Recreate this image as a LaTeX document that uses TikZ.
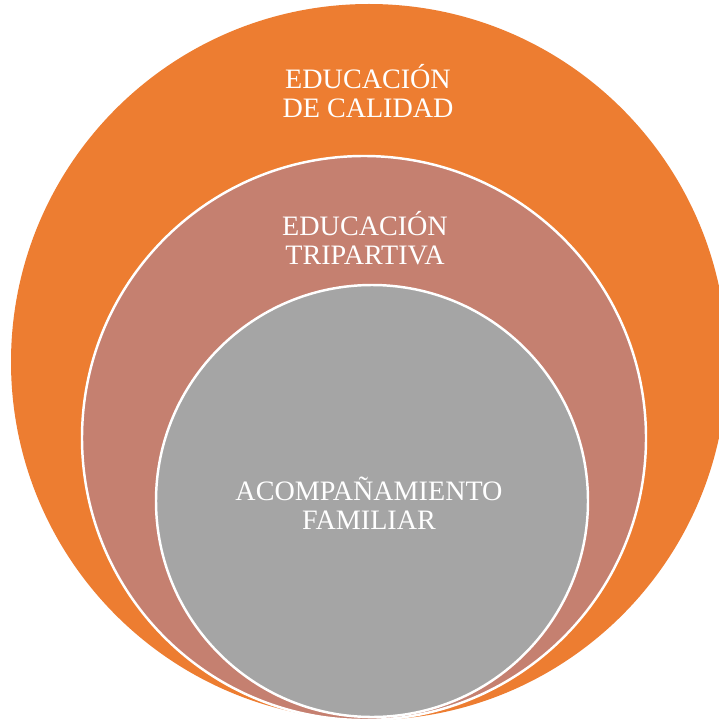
\documentclass[tikz,border=0pt]{standalone}
\usepackage{fontspec}
\setmainfont{Liberation Serif}
\usepackage{xcolor}
\usepackage{tikz}
\definecolor{calidad}{HTML}{ED7D31}
\definecolor{tripart}{HTML}{C58070}
\definecolor{familia}{HTML}{A5A5A5}
\tikzset{
  ring/.style={draw=white, line width=1.4pt},
  lab/.style={text=white, align=center, inner sep=0pt,
              font=\fontsize{16}{16.8}\selectfont},
}

\begin{document}
\begin{tikzpicture}[x=0.02cm,y=-0.02cm]
  \clip (0,0) rectangle (719,726);
  \fill[white] (0,0) rectangle (719,726);
  \coordinate (C1) at (369,362);
  \coordinate (C2) at (364,438);
  \coordinate (C3) at (372,501);
  \fill[calidad] (C1) circle (358);
  \filldraw[ring,fill=tripart] (C2) circle (282);
  \filldraw[ring,fill=familia] (C3) circle (216);
  \node[lab] (calidad) at (368,91) {EDUCACIÓN\\DE CALIDAD};
  \node[lab] (tripart) at (365,238) {EDUCACIÓN\\TRIPARTIVA};
  \node[lab] (familia) at (369,503) {ACOMPAÑAMIENTO\\FAMILIAR};
\end{tikzpicture}
\end{document}
